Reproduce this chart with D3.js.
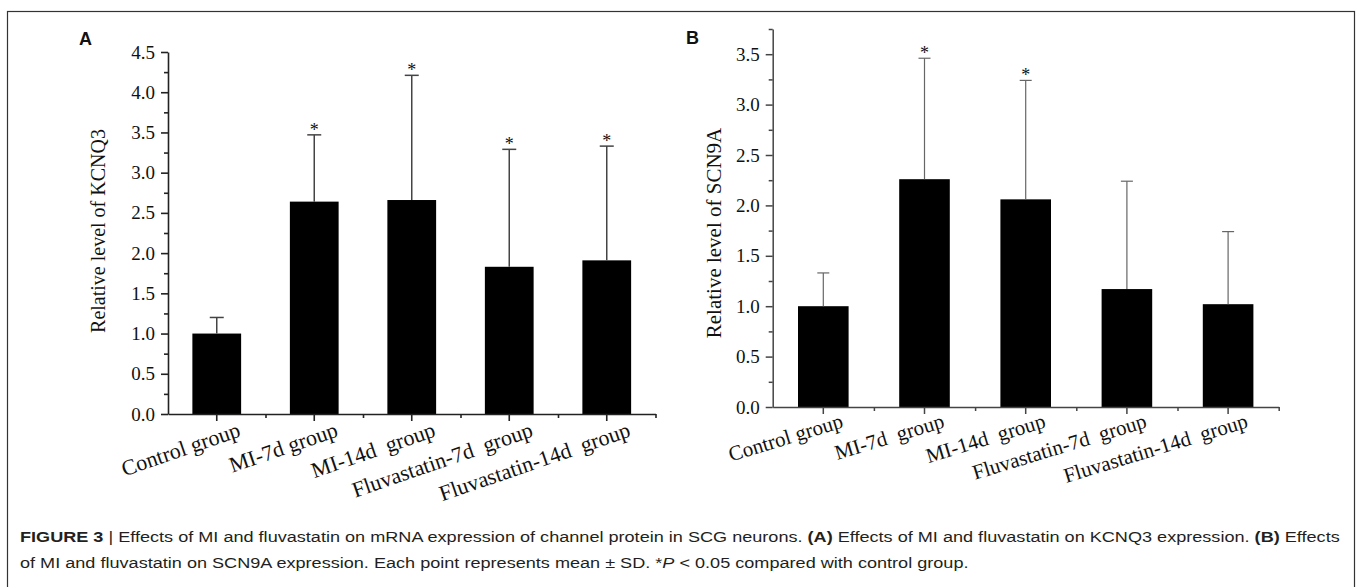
<!DOCTYPE html>
<html lang="en">
<head>
    <meta charset="UTF-8">
    <title>Figure 3 - KCNQ3 and SCN9A expression</title>
    <script src="https://d3js.org/d3.v7.min.js"></script>
    <style>
        body { margin: 0; background: #fff; }
        svg { display: block; }
        .serif { font-family: "Liberation Serif", "Times New Roman", serif; fill: #111; }
        .panel-letter { font-family: "Liberation Sans", Arial, sans-serif; font-weight: bold; font-size: 18px; fill: #111; }
        .caption { font-family: "Liberation Sans", Arial, sans-serif; font-size: 15px; fill: #231f20; }
    </style>
</head>
<body>
    <div id="chart"></div>

    <script>
        // panel A: KCNQ3
        const groupsA = ["Control group", "MI-7d group", "MI-14d  group", "Fluvastatin-7d  group", "Fluvastatin-14d  group"];
        const kcnq3Mean = [1.00, 2.64, 2.66, 1.83, 1.91];
        const kcnq3SD = [0.20, 0.83, 1.55, 1.46, 1.42];
        const kcnq3Sig = [false, true, true, true, true];
        const yTicksA = [0, 0.5, 1.0, 1.5, 2.0, 2.5, 3.0, 3.5, 4.0, 4.5];

        // panel B: SCN9A
        const groupsB = ["Control group", "MI-7d  group", "MI-14d  group", "Fluvastatin-7d  group", "Fluvastatin-14d  group"];
        const scn9aMean = [1.00, 2.26, 2.06, 1.17, 1.02];
        const scn9aSD = [0.33, 1.20, 1.18, 1.07, 0.72];
        const scn9aSig = [false, true, true, false, false];
        const yTicksB = [0, 0.5, 1.0, 1.5, 2.0, 2.5, 3.0, 3.5];

        const svg = d3.select("#chart").append("svg")
            .attr("width", 1358)
            .attr("height", 587);

        // outer frame
        svg.append("rect")
            .attr("x", 7.5).attr("y", 11.5)
            .attr("width", 1347).attr("height", 620)
            .attr("fill", "none")
            .attr("stroke", "#333")
            .attr("stroke-width", 1.2);

        function drawPanel(p) {
            const g = svg.append("g");

            const x = d3.scaleBand().domain(p.groups).range(p.xRange).paddingInner(0.5).paddingOuter(0.25);
            const edges = d3.scaleLinear().domain([0, p.groups.length]).range(p.xRange);
            const y = d3.scaleLinear().domain([0, p.yMax]).range(p.yRange);
            const y0 = p.yRange[0];

            const minorY = d3.range(0.25, p.yMax + 0.001, 0.5);

            // bars
            g.selectAll(".bar").data(p.means).join("rect")
                .attr("class", "bar")
                .attr("x", (d, i) => x(p.groups[i]))
                .attr("y", d => y(d))
                .attr("width", x.bandwidth())
                .attr("height", d => y0 - y(d))
                .attr("fill", "#000");

            // error bars (upper only)
            const cx = i => x(p.groups[i]) + x.bandwidth() / 2;
            const eg = g.append("g").attr("stroke", p.errColor).attr("stroke-width", p.errWidth);
            p.means.forEach((m, i) => {
                const top = y(m + p.sds[i]);
                eg.append("line").attr("x1", cx(i)).attr("x2", cx(i)).attr("y1", y(m)).attr("y2", top);
                eg.append("line").attr("x1", cx(i) - p.cap).attr("x2", cx(i) + p.cap).attr("y1", top).attr("y2", top);
                if (p.sig[i]) {
                    g.append("text").attr("class", "serif")
                        .attr("x", cx(i)).attr("y", top + 1)
                        .attr("text-anchor", "middle")
                        .attr("font-size", 18)
                        .text("*");
                }
            });

            // y axis
            const yAxis = g.append("g")
                .attr("transform", `translate(${p.xRange[0]},0)`)
                .call(d3.axisLeft(y).tickValues(p.yTicks).tickSize(7).tickSizeOuter(0).tickPadding(p.tickPad).tickFormat(d3.format(".1f")));
            g.append("g")
                .attr("transform", `translate(${p.xRange[0]},0)`)
                .call(d3.axisLeft(y).tickValues(minorY).tickSize(4).tickFormat(""))
                .call(a => a.select(".domain").remove());

            // x axis
            g.append("g")
                .attr("transform", `translate(0,${y0})`)
                .call(d3.axisBottom(x).tickSize(7).tickSizeOuter(0).tickFormat(""));
            g.append("g")
                .attr("transform", `translate(0,${y0})`)
                .call(d3.axisBottom(edges).tickValues(d3.range(1, p.groups.length + 1)).tickSize(4).tickFormat(""))
                .call(a => a.select(".domain").remove());

            g.selectAll(".domain, .tick line")
                .attr("stroke", p.axisColor)
                .attr("stroke-width", p.axisWidth);

            yAxis.selectAll(".tick text")
                .attr("class", "serif")
                .attr("font-size", p.tickFont)
                .attr("fill", "#111");

            // rotated category labels
            g.selectAll(".xlabel").data(p.groups).join("text")
                .attr("class", "serif xlabel")
                .attr("font-size", p.labelFont)
                .attr("text-anchor", "end")
                .style("white-space", "pre")
                .attr("transform", d => `translate(${x(d) + x.bandwidth() / 2 + p.labelDx},${y0 + p.labelDy}) rotate(${-p.labelAngle})`)
                .text(d => d);

            // y title
            g.append("text").attr("class", "serif")
                .attr("font-size", p.titleFont)
                .attr("text-anchor", "middle")
                .attr("transform", `translate(${p.titlePos[0]},${p.titlePos[1]}) rotate(-90)`)
                .text(p.title);

            g.append("text").attr("class", "panel-letter")
                .attr("x", p.letterPos[0]).attr("y", p.letterPos[1])
                .text(p.letter);
        }

        drawPanel({
            groups: groupsA, means: kcnq3Mean, sds: kcnq3SD, sig: kcnq3Sig,
            yMax: 4.5, yTicks: yTicksA,
            xRange: [168, 655.5], yRange: [414, 52],
            title: "Relative level of KCNQ3", titlePos: [105, 231], titleFont: 20,
            letter: "A", letterPos: [79, 45],
            tickFont: 19, tickPad: 6,
            labelFont: 22, labelAngle: 19, labelDx: 25, labelDy: 22,
            axisColor: "#222", axisWidth: 1.6,
            errColor: "#444", errWidth: 1.5, cap: 7
        });

        drawPanel({
            groups: groupsB, means: scn9aMean, sds: scn9aSD, sig: scn9aSig,
            yMax: 3.75, yTicks: yTicksB,
            xRange: [772.7, 1278.7], yRange: [407, 29],
            title: "Relative level of SCN9A", titlePos: [721, 233], titleFont: 21,
            letter: "B", letterPos: [686, 43.5],
            tickFont: 19, tickPad: 6,
            labelFont: 21, labelAngle: 17, labelDx: 21, labelDy: 20,
            axisColor: "#444", axisWidth: 1.5,
            errColor: "#666", errWidth: 1.2, cap: 6
        });

        // caption in a condensed face: squeeze the first line to the printed width
        function captionLine(parts) {
            const t = svg.append("text").attr("class", "caption");
            parts.forEach(([txt, style]) => {
                const s = t.append("tspan").style("white-space", "pre").text(txt);
                if (style === "b") s.attr("font-weight", "bold");
                if (style === "i") s.attr("font-style", "italic");
            });
            return t;
        }

        const cap1 = captionLine([
            ["FIGURE 3 ", "b"], ["| Effects of MI and fluvastatin on mRNA expression of channel protein in SCG neurons. ", ""],
            ["(A)", "b"], [" Effects of MI and fluvastatin on KCNQ3 expression. ", ""],
            ["(B)", "b"], [" Effects", ""]
        ]);
        const cap2 = captionLine([
            ["of MI and fluvastatin on SCN9A expression. Each point represents mean \u00b1 SD. *", ""],
            ["P", "i"], [" < 0.05 compared with control group.", ""]
        ]);

        const squeeze = 1321 / cap1.node().getComputedTextLength();
        cap1.attr("transform", `translate(20,542) scale(${squeeze},1)`);
        cap2.attr("transform", `translate(20,568) scale(${squeeze},1)`);
    </script>
</body>
</html>
